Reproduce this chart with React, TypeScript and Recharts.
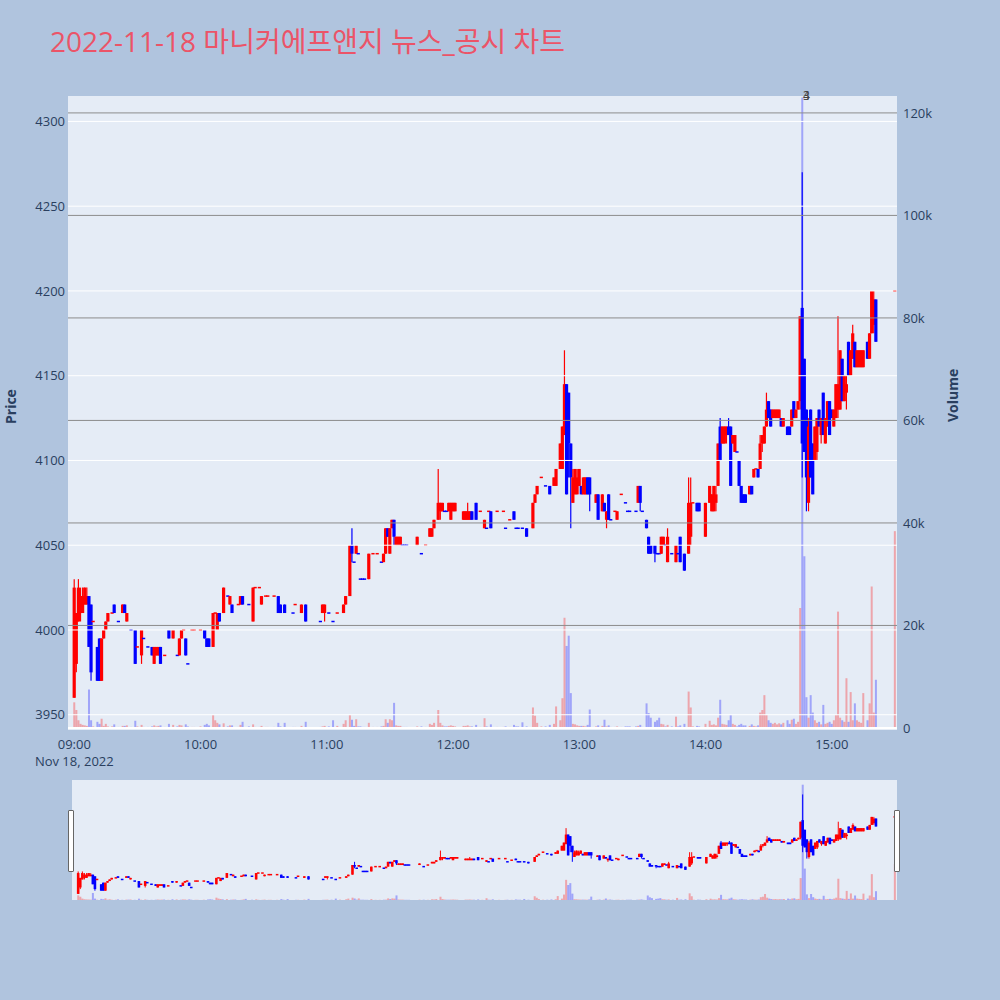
import React from 'react';
import { ComposedChart, Bar, XAxis, YAxis, CartesianGrid, ReferenceLine } from 'recharts';

// [minute since 09:00, open, high, low, close, volume]
type Row = [number, number, number, number, number, number];

const hour09: Row[] = [
  [0, 3960, 4030, 3960, 4025, 5000], [1, 3980, 4010, 3975, 4010, 3500], [2, 4005, 4030, 4005, 4025, 1500],
  [3, 4010, 4025, 4005, 4020, 800], [4, 4010, 4025, 4010, 4020, 600], [5, 4015, 4025, 4015, 4025, 500],
  [6, 4015, 4025, 4015, 4020, 400], [7, 4020, 4020, 3990, 3990, 7500], [8, 4015, 4015, 3970, 3975, 1500],
  [9, 4005, 4005, 4005, 4005, 300], [11, 3990, 3990, 3970, 3970, 1200], [12, 3995, 3995, 3970, 3970, 800],
  [13, 3970, 3995, 3970, 3995, 1800], [14, 3995, 4000, 3995, 4000, 400], [15, 4000, 4005, 4000, 4005, 800],
  [16, 4005, 4010, 4005, 4010, 300], [18, 4010, 4010, 4010, 4010, 300], [19, 4015, 4015, 4010, 4010, 700],
  [21, 4005, 4005, 4005, 4005, 200], [23, 4010, 4015, 4010, 4015, 400], [24, 4015, 4015, 4010, 4010, 400],
  [25, 4005, 4010, 4005, 4010, 500], [27, 4000, 4000, 4000, 4000, 200], [29, 4000, 4000, 3980, 3980, 1400],
  [30, 3990, 3990, 3990, 3990, 300], [32, 3985, 4000, 3980, 4000, 600], [33, 3995, 3995, 3995, 3995, 200],
  [35, 3990, 3990, 3990, 3990, 200], [37, 3990, 3990, 3985, 3985, 300], [38, 3980, 3990, 3980, 3990, 500],
  [39, 3985, 3990, 3985, 3990, 300], [40, 3985, 3990, 3985, 3990, 400], [41, 3990, 3990, 3980, 3980, 500],
  [43, 3985, 3985, 3985, 3985, 200], [45, 4000, 4000, 3995, 3995, 800], [47, 3995, 4000, 3995, 4000, 600],
  [49, 3985, 3985, 3985, 3985, 300], [50, 3985, 3995, 3985, 3995, 600], [51, 3995, 4000, 3995, 4000, 500],
  [52, 4000, 4000, 4000, 4000, 200], [53, 3995, 3995, 3985, 3985, 700], [54, 3980, 3980, 3980, 3980, 300],
  [56, 4000, 4000, 4000, 4000, 200], [57, 4000, 4000, 4000, 4000, 200],
];

const hour10: Row[] = [
  [60, 4000, 4000, 4000, 4000, 300], [62, 4000, 4000, 3995, 3995, 600], [63, 3995, 3995, 3990, 3990, 800],
  [64, 3995, 3995, 3990, 3990, 500], [66, 3990, 4010, 3990, 4010, 2500], [67, 4010, 4010, 4010, 4010, 1500],
  [68, 4000, 4010, 4000, 4010, 1000], [69, 4010, 4010, 4005, 4005, 700], [71, 4010, 4025, 4010, 4025, 900],
  [73, 4020, 4020, 4020, 4020, 300], [74, 4015, 4020, 4015, 4020, 500], [75, 4015, 4015, 4010, 4010, 500],
  [78, 4015, 4015, 4015, 4015, 200], [79, 4015, 4020, 4015, 4020, 600], [80, 4020, 4020, 4015, 4015, 1200],
  [83, 4015, 4015, 4015, 4015, 300], [85, 4005, 4025, 4005, 4025, 700], [86, 4025, 4025, 4025, 4025, 200],
  [88, 4025, 4025, 4025, 4025, 200], [89, 4015, 4020, 4015, 4020, 400], [91, 4020, 4020, 4020, 4020, 200],
  [92, 4020, 4020, 4020, 4020, 200], [95, 4020, 4020, 4020, 4020, 200], [97, 4020, 4020, 4010, 4010, 1000],
  [98, 4015, 4015, 4010, 4010, 300], [100, 4015, 4015, 4010, 4010, 1000], [104, 4010, 4010, 4010, 4010, 200],
  [105, 4015, 4015, 4015, 4015, 200], [108, 4010, 4015, 4010, 4015, 400], [110, 4015, 4015, 4005, 4005, 1200],
  [117, 4005, 4005, 4005, 4005, 200], [118, 4010, 4015, 4010, 4015, 300], [119, 4010, 4015, 4005, 4015, 400],
];

const hour11: Row[] = [
  [121, 4010, 4010, 4010, 4010, 300], [123, 4005, 4005, 4005, 4005, 1500], [125, 4010, 4010, 4010, 4010, 400],
  [128, 4010, 4015, 4010, 4015, 800], [129, 4015, 4020, 4015, 4020, 1500], [131, 4020, 4050, 4020, 4050, 2500],
  [132, 4050, 4060, 4040, 4045, 1600], [133, 4040, 4040, 4040, 4040, 400], [134, 4045, 4050, 4045, 4050, 1700],
  [135, 4045, 4045, 4045, 4045, 300], [136, 4030, 4030, 4030, 4030, 300], [137, 4030, 4030, 4030, 4030, 200],
  [138, 4030, 4030, 4030, 4030, 200], [140, 4030, 4045, 4030, 4045, 1000], [142, 4045, 4045, 4045, 4045, 200],
  [144, 4045, 4045, 4045, 4045, 200], [146, 4040, 4040, 4040, 4040, 300], [147, 4040, 4045, 4040, 4045, 400],
  [148, 4045, 4060, 4045, 4060, 1700], [149, 4060, 4060, 4055, 4055, 1000], [150, 4045, 4060, 4045, 4060, 1700],
  [151, 4060, 4065, 4060, 4065, 1500], [152, 4065, 4065, 4050, 4055, 4900], [153, 4050, 4055, 4050, 4055, 500],
  [154, 4050, 4055, 4050, 4055, 400], [155, 4050, 4055, 4050, 4055, 400], [156, 4050, 4050, 4050, 4050, 200],
  [157, 4050, 4050, 4050, 4050, 200], [158, 4050, 4050, 4050, 4050, 200], [163, 4050, 4055, 4050, 4055, 300],
  [165, 4045, 4045, 4045, 4045, 300], [167, 4050, 4050, 4050, 4050, 200], [169, 4055, 4060, 4055, 4060, 800],
  [170, 4055, 4060, 4055, 4060, 600], [171, 4060, 4065, 4060, 4065, 1000], [173, 4065, 4095, 4065, 4075, 3500],
  [174, 4070, 4075, 4065, 4075, 1000], [175, 4070, 4075, 4070, 4075, 500], [176, 4070, 4070, 4070, 4070, 300],
  [177, 4070, 4070, 4070, 4070, 300], [178, 4070, 4075, 4070, 4075, 400], [179, 4065, 4075, 4065, 4075, 500],
];

const hour12: Row[] = [
  [180, 4070, 4075, 4070, 4075, 400], [181, 4070, 4075, 4070, 4075, 300], [185, 4065, 4070, 4065, 4070, 400],
  [186, 4065, 4070, 4065, 4070, 400], [187, 4065, 4075, 4065, 4070, 500], [188, 4065, 4070, 4065, 4070, 300],
  [189, 4070, 4070, 4065, 4065, 300], [191, 4075, 4075, 4065, 4065, 600], [193, 4070, 4070, 4070, 4070, 200],
  [195, 4060, 4065, 4060, 4065, 1900], [196, 4060, 4060, 4060, 4060, 300], [197, 4070, 4070, 4070, 4070, 200],
  [198, 4070, 4070, 4060, 4060, 700], [201, 4070, 4070, 4070, 4070, 200], [204, 4070, 4070, 4070, 4070, 200],
  [205, 4060, 4060, 4060, 4060, 300], [207, 4065, 4065, 4065, 4065, 200], [209, 4070, 4070, 4065, 4065, 600],
  [210, 4060, 4060, 4060, 4060, 300], [211, 4060, 4060, 4060, 4060, 300], [213, 4060, 4060, 4060, 4060, 1100],
  [215, 4060, 4060, 4055, 4055, 300], [218, 4060, 4075, 4060, 4075, 4000], [219, 4075, 4080, 4075, 4080, 2400],
  [220, 4080, 4085, 4080, 4085, 1000], [222, 4090, 4090, 4090, 4090, 300], [224, 4085, 4085, 4085, 4085, 300],
  [226, 4085, 4085, 4080, 4080, 600], [228, 4085, 4090, 4085, 4090, 800], [229, 4085, 4095, 4085, 4095, 4200],
  [231, 4095, 4110, 4095, 4110, 1500], [232, 4095, 4120, 4095, 4120, 5800], [233, 4115, 4165, 4115, 4145, 21500],
  [234, 4145, 4145, 4080, 4080, 16000], [235, 4140, 4140, 4090, 4110, 18000], [236, 4110, 4110, 4060, 4090, 6800],
  [237, 4075, 4095, 4075, 4090, 800], [238, 4080, 4095, 4080, 4095, 700], [239, 4080, 4095, 4080, 4090, 500],
];

const hour13: Row[] = [
  [240, 4085, 4095, 4085, 4095, 400], [241, 4085, 4085, 4080, 4080, 400], [242, 4080, 4090, 4080, 4090, 400],
  [243, 4080, 4090, 4080, 4090, 300], [244, 4090, 4090, 4080, 4080, 600], [245, 4090, 4090, 4070, 4080, 3600],
  [248, 4075, 4080, 4075, 4080, 300], [249, 4080, 4080, 4065, 4065, 500], [251, 4070, 4080, 4070, 4080, 400],
  [252, 4075, 4075, 4070, 4070, 1600], [253, 4065, 4070, 4060, 4070, 300], [254, 4080, 4080, 4065, 4065, 500],
  [255, 4065, 4065, 4065, 4065, 200], [257, 4070, 4070, 4070, 4070, 200], [258, 4065, 4070, 4065, 4070, 300],
  [260, 4080, 4080, 4080, 4080, 200], [262, 4075, 4075, 4075, 4075, 300], [263, 4070, 4070, 4070, 4070, 300],
  [264, 4070, 4070, 4070, 4070, 300], [267, 4070, 4070, 4070, 4070, 300], [268, 4075, 4085, 4075, 4085, 400],
  [269, 4085, 4085, 4070, 4075, 600], [270, 4070, 4070, 4070, 4070, 200], [272, 4065, 4065, 4060, 4060, 4800],
  [273, 4055, 4055, 4045, 4045, 2900], [274, 4050, 4050, 4045, 4045, 2000], [276, 4050, 4050, 4040, 4045, 1200],
  [277, 4045, 4045, 4045, 4045, 1500], [278, 4045, 4045, 4045, 4045, 2000], [279, 4045, 4055, 4045, 4055, 800],
  [280, 4050, 4055, 4050, 4055, 700], [281, 4050, 4050, 4050, 4050, 300], [282, 4040, 4060, 4040, 4055, 600],
  [284, 4045, 4045, 4045, 4045, 300], [286, 4040, 4050, 4040, 4050, 2200], [287, 4045, 4045, 4045, 4045, 300],
  [288, 4055, 4055, 4040, 4040, 500], [290, 4045, 4045, 4035, 4035, 800], [292, 4045, 4090, 4045, 4075, 7100],
  [293, 4055, 4090, 4050, 4075, 4000], [294, 4075, 4075, 4075, 4075, 300], [296, 4075, 4075, 4070, 4070, 400],
  [297, 4075, 4075, 4070, 4070, 300],
];

const hour14: Row[] = [
  [300, 4055, 4075, 4055, 4075, 800], [302, 4075, 4085, 4075, 4085, 1400], [303, 4070, 4080, 4070, 4080, 600],
  [304, 4070, 4085, 4070, 4085, 700], [305, 4075, 4085, 4070, 4080, 500], [306, 4085, 4110, 4085, 4110, 2000],
  [307, 4120, 4125, 4100, 4100, 5500], [308, 4110, 4120, 4110, 4120, 800], [309, 4110, 4120, 4110, 4120, 700],
  [310, 4115, 4120, 4110, 4120, 600], [311, 4120, 4125, 4115, 4115, 1500], [312, 4120, 4120, 4085, 4085, 2500],
  [313, 4110, 4115, 4110, 4115, 800], [314, 4105, 4115, 4105, 4115, 600], [315, 4105, 4105, 4105, 4105, 300],
  [316, 4100, 4100, 4085, 4085, 600], [317, 4085, 4085, 4075, 4075, 800], [318, 4080, 4080, 4075, 4075, 500],
  [319, 4080, 4080, 4075, 4075, 500], [321, 4080, 4085, 4080, 4085, 400], [322, 4085, 4085, 4080, 4080, 700],
  [323, 4090, 4095, 4090, 4095, 400], [324, 4095, 4095, 4095, 4095, 300], [325, 4095, 4095, 4090, 4090, 500],
  [326, 4095, 4115, 4095, 4110, 3000], [327, 4110, 4115, 4105, 4115, 3500], [328, 4110, 4120, 4110, 4120, 6400],
  [329, 4120, 4140, 4120, 4130, 2500], [330, 4135, 4135, 4125, 4125, 1500], [331, 4130, 4130, 4120, 4120, 1000],
  [332, 4125, 4130, 4125, 4130, 800], [333, 4125, 4130, 4125, 4130, 1000], [334, 4125, 4130, 4125, 4130, 700],
  [335, 4125, 4130, 4125, 4130, 900], [336, 4125, 4125, 4120, 4120, 700], [337, 4120, 4125, 4120, 4125, 1000],
  [339, 4120, 4120, 4115, 4115, 1500], [340, 4120, 4120, 4115, 4115, 800], [341, 4120, 4130, 4120, 4130, 1600],
  [342, 4135, 4135, 4125, 4125, 1800], [343, 4125, 4130, 4125, 4130, 800], [344, 4130, 4135, 4130, 4135, 1200],
  [345, 4135, 4185, 4130, 4185, 23400], [346, 4190, 4270, 4090, 4110, 123000], [347, 4160, 4160, 4105, 4105, 33500],
  [348, 4130, 4130, 4070, 4090, 6000], [349, 4075, 4125, 4070, 4120, 2000], [350, 4130, 4130, 4090, 4090, 6400],
  [351, 4110, 4110, 4080, 4080, 3000], [352, 4100, 4120, 4100, 4120, 1500], [353, 4105, 4125, 4100, 4125, 1000],
  [354, 4130, 4130, 4120, 4120, 1200], [355, 4115, 4125, 4110, 4125, 700], [356, 4140, 4140, 4115, 4115, 4500],
  [357, 4110, 4125, 4110, 4125, 800], [358, 4120, 4135, 4120, 4135, 1000], [359, 4135, 4135, 4115, 4115, 1200],
];

const hour15: Row[] = [
  [360, 4130, 4130, 4125, 4125, 800], [361, 4120, 4130, 4120, 4130, 1500], [362, 4125, 4145, 4125, 4145, 2500],
  [363, 4130, 4185, 4125, 4145, 22700], [364, 4130, 4165, 4130, 4165, 2000], [365, 4160, 4160, 4135, 4135, 1500],
  [366, 4135, 4150, 4135, 4150, 1200], [367, 4140, 4150, 4130, 4145, 9700], [368, 4170, 4170, 4150, 4150, 1200],
  [369, 4150, 4165, 4150, 4165, 7000], [370, 4160, 4180, 4160, 4175, 1500], [371, 4170, 4170, 4155, 4155, 4800],
  [372, 4155, 4165, 4155, 4165, 1500], [373, 4155, 4165, 4155, 4165, 1200], [374, 4155, 4165, 4155, 4165, 1000],
  [375, 4155, 4165, 4155, 4165, 6800], [377, 4170, 4170, 4160, 4160, 1500], [378, 4160, 4175, 4160, 4175, 4800],
  [379, 4175, 4200, 4175, 4200, 27600], [380, 4180, 4200, 4175, 4195, 3000], [381, 4195, 4195, 4170, 4170, 9400],
  [390, 4200, 4200, 4200, 4200, 38400],
];

const priceTicks = [3950, 4000, 4050, 4100, 4150, 4200, 4250, 4300];
const volumeTicks = [0, 20000, 40000, 60000, 80000, 100000, 120000];
const timeTicks = [0, 60, 120, 180, 240, 300, 360];
const timeLabels = ['09:00', '10:00', '11:00', '12:00', '13:00', '14:00', '15:00'];
const newsMarks = ['3', '4'];

const UP = '#ff0000';
const DOWN = '#0000ff';
const FONT = '"Open Sans", "Noto Sans CJK KR", sans-serif';
const TEXT = '#2a3f5f';

// plotly-like direction: equal open/close follows change vs previous close
let prevClose: number | null = null;
let rising = true;
const data = [...hour09, ...hour10, ...hour11, ...hour12, ...hour13, ...hour14, ...hour15].map(([m, o, h, l, c, v]) => {
  if (c !== o) rising = c > o;
  else if (prevClose !== null && c !== prevClose) rising = c > prevClose;
  prevClose = c;
  return { m, open: o, high: h, low: l, close: c, volume: v, range: [l, h], up: rising };
});

const makeCandle = (bodyW: number, wickW: number) => (props: any) => {
  const { x, y, width, height, payload } = props;
  if (x == null || y == null) return <g />;
  const top = Math.min(y, y + height);
  const h = Math.abs(height);
  const { open, close, high, low, up } = payload;
  const color = up ? UP : DOWN;
  const cx = x + width / 2;
  const span = high - low;
  const py = (v: number) => (span === 0 ? top : top + ((high - v) / span) * h);
  const b1 = py(Math.max(open, close));
  const b2 = py(Math.min(open, close));
  return (
    <g>
      {h > 0 && <line x1={cx} x2={cx} y1={top} y2={top + h} stroke={color} strokeWidth={wickW} />}
      <rect x={cx - bodyW / 2} y={b2 - b1 < 1.5 ? b1 - 0.75 : b1} width={bodyW} height={Math.max(b2 - b1, 1.5)} fill={color} />
    </g>
  );
};

const VolumeBar = (props: any) => {
  const { x, y, width, height, payload } = props;
  if (x == null || y == null) return <g />;
  return (
    <rect x={x + width / 2 - 1} y={Math.min(y, y + height)} width={2} height={Math.abs(height)}
      fill={payload.up ? UP : DOWN} fillOpacity={0.3} />
  );
};

const TimeTick = (props: any) => {
  const { x, y, index } = props;
  return (
    <g>
      <text x={x} y={y} dy={17} textAnchor="middle" fontSize={13} fill={TEXT} fontFamily={FONT}>
        {timeLabels[index]}
      </text>
      {index === 0 && (
        <text x={x} y={y} dy={34} textAnchor="middle" fontSize={13} fill={TEXT} fontFamily={FONT}>
          Nov 18, 2022
        </text>
      )}
    </g>
  );
};

const Candle = makeCandle(3.2, 1.2);
const MiniCandle = makeCandle(2.6, 1);

export default function App() {
  return (
    <div style={{ position: 'absolute', left: 0, top: 0, width: 1000, height: 1000, background: '#B0C4DE', fontFamily: FONT }}>
      <div style={{ position: 'absolute', left: 50, top: 20, fontSize: 28, color: '#EB5468', whiteSpace: 'nowrap' }}>
        2022-11-18 마니커에프앤지 뉴스_공시 차트
      </div>

      <div style={{ position: 'absolute', left: 0, top: 0 }}>
        <ComposedChart width={1000} height={780} data={data} margin={{ top: 96, right: 0, bottom: 0, left: 0 }}>
          <CartesianGrid xAxisId="t" yAxisId="price" horizontal={false} vertical={false} fill="#E5ECF6" fillOpacity={1} />
          <XAxis xAxisId="t" dataKey="m" type="number" domain={[-3, 391]} ticks={timeTicks} interval={0}
            axisLine={false} tickLine={false} tickSize={0} height={50} tick={<TimeTick />} />
          <XAxis xAxisId="v" dataKey="m" type="number" domain={[-3, 391]} hide />
          <YAxis yAxisId="price" orientation="left" width={68} domain={[3941, 4315]} ticks={priceTicks} interval={0}
            axisLine={false} tickLine={false} tickSize={0} tickMargin={3}
            tick={{ fontSize: 13, fill: TEXT, fontFamily: FONT }} />
          <YAxis yAxisId="vol" orientation="right" width={103} domain={[-400, 123300]} ticks={volumeTicks} interval={0}
            axisLine={false} tickLine={false} tickSize={0} tickMargin={6}
            tickFormatter={(v: number) => (v === 0 ? '0' : `${v / 1000}k`)}
            tick={{ fontSize: 13, fill: TEXT, fontFamily: FONT }} />
          {priceTicks.map((p) => (
            <ReferenceLine key={`p${p}`} xAxisId="t" yAxisId="price" y={p} stroke="#ffffff" strokeWidth={1} />
          ))}
          {volumeTicks.filter((v) => v > 0).map((v) => (
            <ReferenceLine key={`v${v}`} xAxisId="t" yAxisId="vol" y={v} stroke="#8c8c8c" strokeWidth={1} />
          ))}
          <ReferenceLine xAxisId="t" yAxisId="vol" y={0} stroke="#ffffff" strokeWidth={2} />
          <Bar xAxisId="v" yAxisId="vol" dataKey="volume" barSize={2} shape={VolumeBar} isAnimationActive={false} />
          <Bar xAxisId="t" yAxisId="price" dataKey="range" barSize={3} shape={Candle} isAnimationActive={false} />
        </ComposedChart>
      </div>

      <div style={{ position: 'absolute', left: 2, top: 415, transform: 'translate(0, -50%) rotate(-90deg)', transformOrigin: 'center',
        fontSize: 14, fontWeight: 700, color: TEXT, width: 18, textAlign: 'center', lineHeight: '18px' }}>
        <span style={{ display: 'inline-block' }}>Price</span>
      </div>
      <div style={{ position: 'absolute', left: 944, top: 413, transform: 'translate(0, -50%) rotate(-90deg)', transformOrigin: 'center',
        fontSize: 14, fontWeight: 700, color: TEXT, width: 18, textAlign: 'center', lineHeight: '18px', whiteSpace: 'nowrap' }}>
        <span style={{ display: 'inline-block' }}>Volume</span>
      </div>

      {newsMarks.map((t) => (
        <div key={t} style={{ position: 'absolute', left: 803, top: 89, fontSize: 12, color: '#444', lineHeight: '14px' }}>{t}</div>
      ))}

      <div style={{ position: 'absolute', left: 72, top: 780, width: 825, height: 120, background: '#E5ECF6' }} />
      <div style={{ position: 'absolute', left: 0, top: 780 }}>
        <ComposedChart width={1000} height={120} data={data} margin={{ top: 0, right: 103, bottom: 0, left: 72 }}>
          <XAxis xAxisId="t" dataKey="m" type="number" domain={[-3, 391]} hide />
          <XAxis xAxisId="v" dataKey="m" type="number" domain={[-3, 391]} hide />
          <YAxis yAxisId="price" domain={[3941, 4315]} hide />
          <YAxis yAxisId="vol" domain={[0, 128000]} hide />
          <Bar xAxisId="v" yAxisId="vol" dataKey="volume" barSize={2} shape={VolumeBar} isAnimationActive={false} />
          <Bar xAxisId="t" yAxisId="price" dataKey="range" barSize={3} shape={MiniCandle} isAnimationActive={false} />
        </ComposedChart>
      </div>
      <div style={{ position: 'absolute', left: 68, top: 810, width: 4, height: 60, background: '#fff', border: '1px solid #666', borderRadius: 1 }} />
      <div style={{ position: 'absolute', left: 894, top: 810, width: 4, height: 60, background: '#fff', border: '1px solid #666', borderRadius: 1 }} />
    </div>
  );
}
